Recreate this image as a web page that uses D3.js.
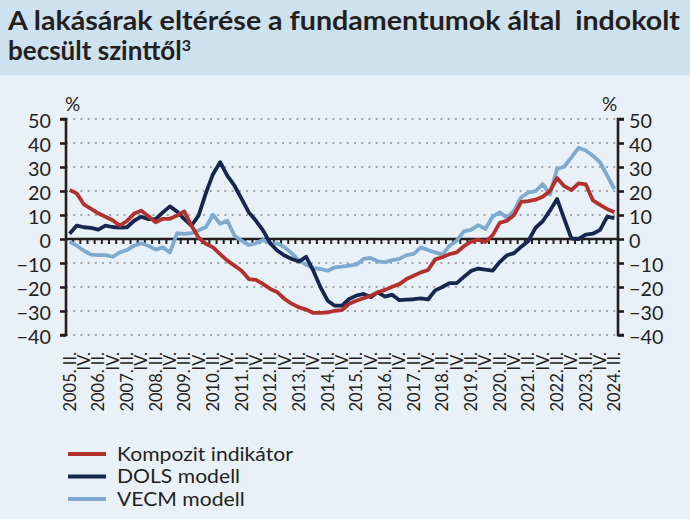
<!DOCTYPE html>
<html><head><meta charset="utf-8">
<script src="https://cdn.jsdelivr.net/npm/d3@7"></script>
<style>
html,body{margin:0;padding:0;background:#e9f1f8;}
svg{display:block;}
</style></head>
<body>
<svg id="c" width="690" height="519"></svg>
<script>
const titleLines = ["A lakásárak eltérése a fundamentumok által  indokolt", "becsült szinttől"];
const years = d3.range(2005, 2025);
const quarterNames = ["I.", "II.", "III.", "IV."];
// quarterly categories 2005 Q2 .. 2024 Q2
const categories = [];
years.forEach(yr => quarterNames.forEach((q, k) => {
  if ((yr === 2005 && k < 1) || (yr === 2024 && k > 1)) return;
  categories.push({year: yr, q: q, key: yr + " " + q});
}));
const yTicks = [50, 40, 30, 20, 10, 0, -10, -20, -30, -40];
const seriesNames = ["Kompozit indikátor", "DOLS modell", "VECM modell"];
const seriesColors = ["#b3312d", "#17264f", "#7eaad0"];

const kompozit = [20.4, 19, 14.4, 12.6, 10.7, 9.3, 7.8, 5.6, 7.5, 10.6,
  11.8, 9.5, 7, 8.4, 8.4, 9.8, 11.5, 5.6, 0.5, -2,
  -3.5, -6.3, -9, -11.1, -13.2, -16.7, -17, -18.8, -20.8, -22.2,
  -25, -27, -28.5, -29.4, -30.8, -30.8, -30.6, -29.9, -29.6, -27,
  -25.7, -24.7, -23.6, -22.2, -21.2, -19.9, -18.8, -16.7, -15.3, -13.9,
  -12.9, -8.5, -7.6, -6.3, -5.6, -3, -1.1, -0.4, -1.2, 1.5,
  6.7, 7.6, 10, 15.5, 15.8, 16.4, 17.6, 20, 25.4, 22,
  20.4, 23.2, 22.8, 16.1, 14.2, 12.4, 11.2];
const dols = [2.2, 5.6, 4.9, 4.6, 3.9, 5.6, 5, 4.7, 4.9, 7.6,
  9.3, 8.3, 8.3, 11.1, 13.6, 11.4, 8.3, 5.6, 9.8, 19,
  27, 32, 26.4, 22.2, 16.7, 11.1, 7.6, 3.5, -1.8, -4.9,
  -6.9, -8.3, -9.4, -7.4, -13.2, -20.1, -25.7, -27.8, -27.8, -25,
  -23.6, -22.9, -24.2, -22.2, -24, -23.2, -25.5, -25.3, -25.1, -24.7,
  -25.2, -21.4, -20, -18.4, -18.4, -15.8, -13.3, -12.3, -12.8, -13.2,
  -9.6, -6.8, -5.9, -3.2, -0.8, 4.7, 7.4, 11.8, 16.7, 8.4,
  0.2, 0, 1.8, 2.2, 3.8, 9.3, 8.7];
const vecm = [-1.1, -2.8, -4.9, -6.5, -6.7, -6.7, -7.4, -5.6, -4.6, -2.8,
  -1.8, -2.8, -4.4, -3.5, -5.6, 2.4, 2.1, 2.4, 3.6, 4.9,
  10.1, 6.3, 7.6, 1.4, -0.7, -2.5, -1.8, -0.4, -1.8, -1.8,
  -3.5, -6, -9, -10.7, -12.1, -12.5, -13.2, -11.8, -11.5, -11.1,
  -10.7, -8.3, -7.9, -9.3, -9.7, -8.8, -8.3, -6.7, -6.2, -3.5,
  -4.6, -5.6, -6.5, -2.8, -0.7, 3.2, 3.8, 5.8, 4.2, 9.3,
  11.1, 8.8, 11.8, 17.4, 19.4, 19.9, 22.9, 18.5, 29.2, 30.1,
  34, 38, 36.9, 34.7, 31.9, 26.4, 20.8];
const seriesValues = [kompozit, dols, vecm];

(function () {
const svg = d3.select("#c");
const W = 690, H = 519;
const FONT = "Lato, 'Open Sans', sans-serif";
const ink = "#231f20";

svg.append("rect").attr("x", 0).attr("y", 0).attr("width", W).attr("height", H).attr("fill", "#e9f1f8");
svg.append("rect").attr("x", 0).attr("y", 0).attr("width", W).attr("height", 75).attr("fill", "#cde2ee");

// title
svg.append("text").attr("x", 8).attr("y", 30).attr("font-family", FONT)
  .attr("font-weight", 700).attr("font-size", 26).attr("fill", ink)
  .style("white-space", "pre").attr("textLength", 672).attr("lengthAdjust", "spacingAndGlyphs")
  .text(titleLines[0]);
const t2 = svg.append("text").attr("x", 8).attr("y", 60).attr("font-family", FONT)
  .attr("font-weight", 700).attr("font-size", 26).attr("fill", ink);
t2.append("tspan").text(titleLines[1]);
t2.append("tspan").attr("dy", -9).attr("font-size", 16).text("3");

const pl = 66, pr = 618, pt = 119, pb = 335;
const x = d3.scaleBand().domain(categories.map(d => d.key)).range([pl, pr]);
const y = d3.scaleLinear().domain([-40, 50]).range([pb, pt]);
const xc = k => x(k) + x.bandwidth() / 2;

// gridlines
svg.append("g").selectAll("line").data(yTicks.filter(v => v !== 0)).join("line")
  .attr("x1", pl).attr("x2", pr).attr("y1", d => y(d)).attr("y2", d => y(d))
  .attr("stroke", "#8c8c8c").attr("stroke-width", 1.6).attr("stroke-dasharray", "2,5.2");

// axes
const axL = d3.axisLeft(y).tickValues(yTicks).tickSize(6).tickPadding(9).tickFormat(d3.format("d"));
const axR = d3.axisRight(y).tickValues(yTicks).tickSize(6).tickPadding(5).tickFormat(d3.format("d"));
function styleAxis(sel) {
  sel.select(".domain").attr("stroke", ink).attr("stroke-width", 2.6);
  sel.selectAll(".tick line").attr("stroke", ink).attr("stroke-width", 2.6);
  sel.selectAll(".tick text").attr("font-family", FONT).attr("font-size", 19.8).attr("fill", ink)
    .attr("dy", "0.42em");
}
const gL = svg.append("g").attr("transform", `translate(${pl},0)`).call(axL).call(styleAxis);
gL.select(".domain").attr("d", `M-6,${pt}H0V${pb}H-6`);
const gR = svg.append("g").attr("transform", `translate(${pr},0)`).call(axR).call(styleAxis);
gR.select(".domain").attr("d", `M6,${pt}H0V${pb}H6`);

// zero line with quarter ticks
svg.append("line").attr("x1", pl).attr("x2", pr).attr("y1", y(0)).attr("y2", y(0))
  .attr("stroke", ink).attr("stroke-width", 2.6);
svg.append("g").selectAll("line").data(categories.slice(1)).join("line")
  .attr("x1", d => x(d.key)).attr("x2", d => x(d.key))
  .attr("y1", y(0)).attr("y2", y(0) + 5)
  .attr("stroke", ink).attr("stroke-width", 2);

// % labels
svg.append("text").attr("x", 72.5).attr("y", 111).attr("text-anchor", "middle").attr("font-family", FONT)
  .attr("font-size", 19).attr("fill", ink).text("%");
svg.append("text").attr("x", 609.5).attr("y", 111).attr("text-anchor", "middle").attr("font-family", FONT)
  .attr("font-size", 19).attr("fill", ink).text("%");

// x labels
const labelCats = categories.filter((d, i) => i % 2 === 0);
svg.append("g").selectAll("text").data(labelCats).join("text")
  .attr("transform", d => `translate(${xc(d.key)},352) rotate(-90)`)
  .attr("dy", "0.36em").attr("text-anchor", "end")
  .attr("font-family", FONT).attr("font-size", 16.5).attr("fill", ink)
  .text(d => d.q === "II." ? `${d.year}. II.` : d.q);

// lines
const line = d3.line().x((v, i) => xc(categories[i].key)).y(v => y(v));
[2, 1, 0].forEach(s => {
  svg.append("path").datum(seriesValues[s]).attr("d", line)
    .attr("fill", "none").attr("stroke", seriesColors[s]).attr("stroke-width", 3.8)
    .attr("stroke-linejoin", "round");
});

// legend
seriesNames.forEach((n, i) => {
  const yy = 454 + i * 22.5;
  svg.append("line").attr("x1", 68).attr("x2", 106).attr("y1", yy).attr("y2", yy)
    .attr("stroke", seriesColors[i]).attr("stroke-width", 4);
  svg.append("text").attr("transform", `translate(117,${yy + 6.5}) scale(1.15,1)`)
    .attr("font-family", FONT).attr("font-size", 18.4).attr("fill", ink).text(n);
});
})();
</script>
</body></html>
